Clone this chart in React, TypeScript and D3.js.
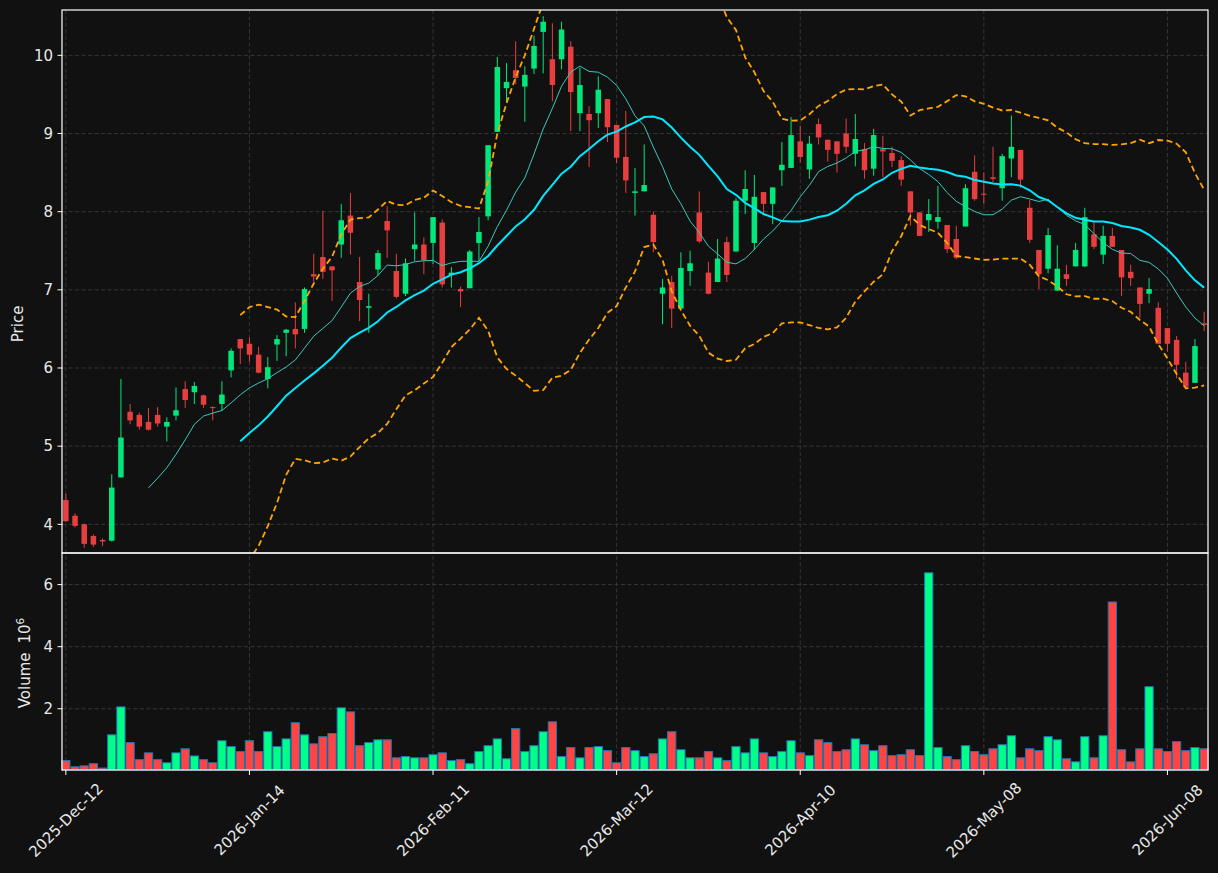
import * as d3 from "d3";

// daily OHLC (125 sessions)
const OPEN = [
  4.31, 4.11, 4.0, 3.85, 3.8, 3.79, 4.6, 5.44, 5.4, 5.31,
  5.4, 5.25, 5.39, 5.73, 5.69, 5.65, 5.5, 5.54, 5.97, 6.37,
  6.31, 6.17, 5.86, 6.3, 6.45, 6.5, 6.5, 7.2, 7.42, 7.3,
  7.58, 7.95, 7.1, 6.77, 7.26, 7.88, 7.24, 6.95, 7.52, 7.58,
  7.6, 7.86, 7.19, 7.01, 7.02, 7.6, 7.94, 9.02, 9.58, 9.81,
  9.6, 9.83, 10.3, 9.95, 9.95, 10.11, 9.26, 9.25, 9.26, 9.44,
  9.11, 8.7, 8.24, 8.26, 7.96, 6.95, 7.1, 6.76, 7.24, 7.99,
  7.22, 7.1, 7.61, 7.49, 8.14, 7.6, 8.25, 8.1, 8.53, 8.56,
  8.9, 8.54, 9.12, 8.92, 8.9, 9.0, 8.74, 8.8, 8.55, 8.8,
  8.75, 8.66, 8.26, 7.99, 7.89, 7.87, 7.83, 7.65, 7.81, 8.51,
  8.23, 8.44, 8.3, 8.68, 8.79, 8.05, 7.51, 7.27, 6.99, 7.2,
  7.3, 7.3, 7.71, 7.45, 7.69, 7.51, 7.23, 7.03, 6.95, 6.77,
  6.51, 6.36, 5.94, 5.81, 6.57,
];
const HIGH = [
  4.39, 4.14, 4.01, 3.87, 3.82, 4.64, 5.86, 5.54, 5.43, 5.49,
  5.5, 5.37, 5.75, 5.83, 5.82, 5.66, 5.51, 5.83, 6.25, 6.37,
  6.39, 6.27, 6.14, 6.42, 6.5, 6.84, 7.03, 7.46, 8.01, 7.3,
  8.1, 8.24, 7.42, 6.95, 7.51, 8.07, 7.46, 7.4, 7.99, 7.67,
  7.93, 7.9, 7.29, 7.04, 7.51, 7.93, 8.85, 9.98, 9.9, 10.18,
  9.86, 10.25, 10.5, 10.41, 10.43, 10.18, 9.84, 9.35, 9.73, 9.44,
  9.11, 9.29, 8.56, 8.86, 8.0, 7.14, 7.18, 7.48, 7.5, 8.26,
  7.36, 7.65, 7.68, 8.17, 8.53, 8.47, 8.25, 8.31, 8.89, 9.21,
  9.1, 8.97, 9.19, 8.92, 8.9, 9.19, 9.25, 8.88, 9.06, 8.97,
  8.83, 8.71, 8.26, 7.99, 8.16, 8.33, 7.83, 7.82, 8.35, 8.72,
  8.5, 8.83, 8.74, 9.23, 8.79, 8.15, 7.51, 7.79, 7.57, 7.32,
  7.6, 8.05, 7.87, 7.82, 7.79, 7.51, 7.32, 7.03, 7.15, 6.84,
  6.51, 6.41, 6.08, 6.37, 6.72,
];
const LOW = [
  4.03, 3.96, 3.7, 3.71, 3.72, 3.78, 4.6, 5.28, 5.21, 5.2,
  5.25, 5.06, 5.33, 5.49, 5.54, 5.49, 5.33, 5.45, 5.88, 6.05,
  6.08, 5.93, 5.74, 6.09, 6.15, 6.25, 6.45, 7.1, 7.14, 6.86,
  7.41, 7.45, 6.6, 6.45, 7.18, 7.41, 6.89, 6.92, 7.37, 7.2,
  7.33, 7.03, 7.03, 6.78, 7.02, 7.37, 7.89, 9.02, 9.41, 9.63,
  9.15, 9.76, 9.77, 9.41, 9.82, 9.03, 9.03, 8.57, 9.07, 8.89,
  8.62, 8.24, 7.95, 8.26, 7.48, 6.56, 6.51, 6.76, 7.05, 7.6,
  6.94, 7.1, 7.1, 7.49, 7.97, 7.51, 7.98, 7.84, 8.33, 8.56,
  8.63, 8.42, 8.86, 8.64, 8.5, 8.75, 8.58, 8.42, 8.46, 8.44,
  8.57, 8.33, 7.82, 7.69, 7.74, 7.78, 7.47, 7.39, 7.81, 8.14,
  8.1, 8.38, 8.14, 8.44, 8.3, 7.6, 7.01, 7.21, 6.99, 7.05,
  7.3, 7.29, 7.52, 7.33, 7.55, 6.92, 7.05, 6.64, 6.83, 6.31,
  6.21, 5.87, 5.73, 5.81, 6.47,
];
const CLOSE = [
  4.04, 3.98, 3.75, 3.74, 3.78, 4.47, 5.11, 5.33, 5.25, 5.21,
  5.29, 5.31, 5.46, 5.59, 5.77, 5.53, 5.49, 5.66, 6.22, 6.25,
  6.17, 5.94, 6.01, 6.37, 6.49, 6.43, 7.01, 7.17, 7.23, 7.25,
  7.89, 7.73, 6.87, 6.79, 7.47, 7.76, 6.91, 7.34, 7.58, 7.38,
  7.93, 7.07, 7.22, 6.98, 7.49, 7.74, 8.85, 9.85, 9.66, 9.71,
  9.75, 10.12, 10.43, 9.62, 10.33, 9.53, 9.62, 9.17, 9.56, 9.08,
  8.69, 8.4, 8.26, 8.34, 7.61, 7.03, 6.76, 7.28, 7.34, 7.62,
  6.95, 7.4, 7.19, 8.14, 8.29, 8.19, 8.1, 8.31, 8.6, 8.98,
  8.7, 8.87, 8.95, 8.79, 8.74, 8.83, 8.93, 8.53, 8.98, 8.77,
  8.65, 8.41, 7.99, 7.69, 7.97, 7.93, 7.52, 7.41, 8.3, 8.16,
  8.22, 8.42, 8.71, 8.83, 8.41, 7.64, 7.2, 7.7, 7.27, 7.14,
  7.51, 7.93, 7.55, 7.69, 7.55, 7.16, 7.15, 6.82, 7.01, 6.31,
  6.31, 6.04, 5.76, 6.28, 6.55,
];
// volume in millions
const VOLUME = [
  0.33, 0.13, 0.16, 0.23, 0.09, 1.16, 2.06, 0.91, 0.36, 0.58,
  0.36, 0.26, 0.58, 0.71, 0.48, 0.36, 0.26, 0.97, 0.78, 0.62,
  0.97, 0.62, 1.26, 0.78, 1.03, 1.55, 1.16, 0.87, 1.1, 1.2,
  2.03, 1.9, 0.81, 0.91, 1.0, 1.0, 0.42, 0.46, 0.42, 0.42,
  0.52, 0.58, 0.33, 0.36, 0.23, 0.62, 0.81, 1.03, 0.39, 1.36,
  0.62, 0.81, 1.26, 1.58, 0.46, 0.75, 0.42, 0.75, 0.78, 0.65,
  0.26, 0.75, 0.65, 0.46, 0.55, 1.03, 1.26, 0.68, 0.42, 0.42,
  0.62, 0.42, 0.33, 0.78, 0.58, 1.03, 0.58, 0.46, 0.62, 0.97,
  0.58, 0.49, 1.0, 0.91, 0.62, 0.68, 1.03, 0.84, 0.65, 0.81,
  0.49, 0.52, 0.68, 0.49, 6.38, 0.75, 0.46, 0.36, 0.81, 0.62,
  0.52, 0.71, 0.84, 1.13, 0.42, 0.71, 0.65, 1.1, 1.0, 0.39,
  0.29, 1.1, 0.42, 1.13, 5.44, 0.68, 0.29, 0.71, 2.71, 0.71,
  0.62, 0.94, 0.65, 0.75, 0.71,
];

const TICK_INDEX = [0, 20, 40, 60, 80, 100, 120];
const TICK_LABELS = [
  "2025-Dec-12", "2026-Jan-14", "2026-Feb-11", "2026-Mar-12",
  "2026-Apr-10", "2026-May-08", "2026-Jun-08",
];
const PRICE_TICKS = [4, 5, 6, 7, 8, 9, 10];
const VOLUME_TICKS = [2, 4, 6];
const PRICE_LIMITS = [3.633, 10.58];

const W = 1218;
const H = 873;
const LEFT = 62;
const RIGHT = 1208;
const PRICE_TOP = 10;
const PRICE_BOTTOM = 553;
const VOL_BOTTOM = 770;

const BG = "#111111";
const UP = "#00ff88";
const DOWN = "#ff4444";
const GRID = "#3a3a3a";
const TEXT = "#e8e8e8";
const FONT = "DejaVu Sans, sans-serif";

type Pt = { i: number; v: number };

function rolling(n: number, fn: (w: number[]) => number | undefined): Pt[] {
  const out: Pt[] = [];
  for (let i = n - 1; i < CLOSE.length; i++) {
    const v = fn(CLOSE.slice(i - n + 1, i + 1));
    if (v != null) out.push({ i, v });
  }
  return out;
}

export default function App() {
  const n = CLOSE.length;
  const x = d3.scaleLinear().domain([-0.42, n - 1 + 0.42]).range([LEFT, RIGHT]);
  const step = x(1) - x(0);
  const y = d3.scaleLinear().domain(PRICE_LIMITS).range([PRICE_BOTTOM, PRICE_TOP]);
  const yv = d3
    .scaleLinear()
    .domain([0.3 * (d3.min(VOLUME) ?? 0), 1.1 * (d3.max(VOLUME) ?? 1)])
    .range([VOL_BOTTOM, PRICE_BOTTOM]);

  // 10/20 moving averages and 20-day bollinger bands from the closes
  const ma10 = rolling(10, (w) => d3.mean(w));
  const ma20 = rolling(20, (w) => d3.mean(w));
  const upper = rolling(20, (w) => (d3.mean(w) ?? 0) + 2 * (d3.deviation(w) ?? 0));
  const lower = rolling(20, (w) => (d3.mean(w) ?? 0) - 2 * (d3.deviation(w) ?? 0));

  const line = d3
    .line<Pt>()
    .x((d) => x(d.i))
    .y((d) => y(d.v));

  const bodyW = step * 0.6;
  const barW = step * 0.9;

  return (
    <div style={{ position: "fixed", left: 0, top: 0, width: W, height: H, background: BG }}>
      <svg width={W} height={H} style={{ display: "block" }} fontFamily={FONT}>
        <defs>
          <clipPath id="priceClip">
            <rect x={LEFT} y={PRICE_TOP} width={RIGHT - LEFT} height={PRICE_BOTTOM - PRICE_TOP} />
          </clipPath>
        </defs>
        <rect width={W} height={H} fill={BG} />

        {/* grid */}
        <g stroke={GRID} strokeWidth={0.9} strokeDasharray="4 2.5">
          {PRICE_TICKS.map((t) => (
            <line key={"pg" + t} x1={LEFT} x2={RIGHT} y1={y(t)} y2={y(t)} />
          ))}
          {VOLUME_TICKS.map((t) => (
            <line key={"vg" + t} x1={LEFT} x2={RIGHT} y1={yv(t)} y2={yv(t)} />
          ))}
          {TICK_INDEX.map((t) => (
            <line key={"xg" + t} x1={x(t)} x2={x(t)} y1={PRICE_TOP} y2={VOL_BOTTOM} />
          ))}
        </g>

        {/* candles */}
        <g opacity={0.9}>
          {CLOSE.map((c, i) => {
            const o = OPEN[i];
            const col = c >= o ? UP : DOWN;
            const top = y(Math.max(o, c));
            const bot = y(Math.min(o, c));
            return (
              <g key={i}>
                <line x1={x(i)} x2={x(i)} y1={y(HIGH[i])} y2={y(LOW[i])} stroke={col} strokeWidth={1} />
                <rect
                  x={x(i) - bodyW / 2}
                  y={top}
                  width={bodyW}
                  height={Math.max(bot - top, 1)}
                  fill={col}
                />
              </g>
            );
          })}
        </g>

        {/* moving averages and bands */}
        <g clipPath="url(#priceClip)" fill="none">
          <path d={line(ma10) ?? ""} stroke="#3cc8bc" strokeWidth={1} />
          <path d={line(ma20) ?? ""} stroke="#00e8ff" strokeWidth={2} />
          <path d={line(upper) ?? ""} stroke="#ffa500" strokeWidth={1.8} strokeDasharray="6 3.5" />
          <path d={line(lower) ?? ""} stroke="#ffa500" strokeWidth={1.8} strokeDasharray="6 3.5" />
        </g>

        {/* volume */}
        <g>
          {VOLUME.map((v, i) => (
            <rect
              key={i}
              x={x(i) - barW / 2}
              y={yv(v)}
              width={barW}
              height={VOL_BOTTOM - yv(v)}
              fill={CLOSE[i] >= OPEN[i] ? UP : DOWN}
              stroke="#1f77b4"
              strokeWidth={1}
            />
          ))}
        </g>

        {/* frames */}
        <g fill="none" stroke="#ffffff" strokeWidth={1.2}>
          <rect x={LEFT} y={PRICE_TOP} width={RIGHT - LEFT} height={PRICE_BOTTOM - PRICE_TOP} />
          <rect x={LEFT} y={PRICE_BOTTOM} width={RIGHT - LEFT} height={VOL_BOTTOM - PRICE_BOTTOM} />
        </g>

        {/* y ticks */}
        <g fill={TEXT} fontSize={15} textAnchor="end">
          {PRICE_TICKS.map((t) => (
            <g key={"pt" + t}>
              <line x1={LEFT - 4.5} x2={LEFT} y1={y(t)} y2={y(t)} stroke="#fff" strokeWidth={1} />
              <text x={LEFT - 9} y={y(t)} dy="0.35em">{t}</text>
            </g>
          ))}
          {VOLUME_TICKS.map((t) => (
            <g key={"vt" + t}>
              <line x1={LEFT - 4.5} x2={LEFT} y1={yv(t)} y2={yv(t)} stroke="#fff" strokeWidth={1} />
              <text x={LEFT - 9} y={yv(t)} dy="0.35em">{t}</text>
            </g>
          ))}
        </g>

        {/* x ticks */}
        <g fill={TEXT} fontSize={15}>
          {TICK_INDEX.map((t, k) => (
            <g key={"xt" + t}>
              <line x1={x(t)} x2={x(t)} y1={VOL_BOTTOM} y2={VOL_BOTTOM + 5} stroke="#fff" strokeWidth={1} />
              <text
                transform={`translate(${x(t)},${VOL_BOTTOM + 50}) rotate(-45)`}
                textAnchor="middle"
                dy="0.35em"
              >
                {TICK_LABELS[k]}
              </text>
            </g>
          ))}
        </g>

        {/* axis labels */}
        <text
          transform={`translate(18,${(y(7) + y(6)) / 2 - 5}) rotate(-90)`}
          fill={TEXT}
          fontSize={15}
          textAnchor="middle"
          dy="0.35em"
        >
          Price
        </text>
        <text
          transform={`translate(25,663) rotate(-90)`}
          fill={TEXT}
          fontSize={15}
          textAnchor="middle"
          dy="0.35em"
        >
          Volume<tspan dx={9}>10</tspan>
          <tspan fontSize={10.5} dy="-0.6em">6</tspan>
        </text>
      </svg>
    </div>
  );
}
